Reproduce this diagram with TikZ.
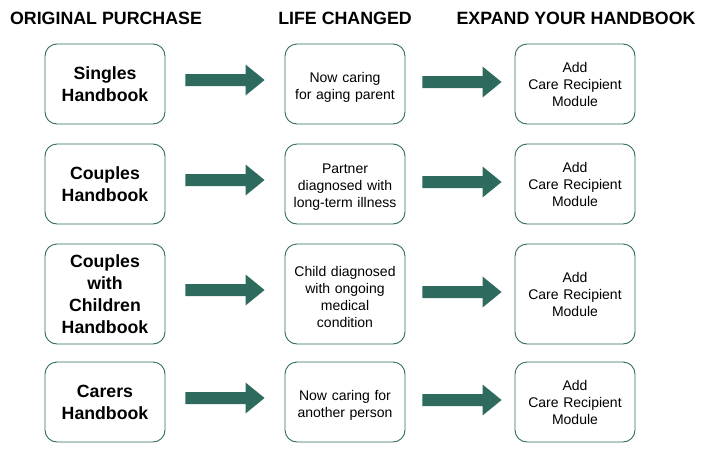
\documentclass[tikz,border=0pt]{standalone}
\usepackage{fontspec}
\setmainfont{Liberation Sans}
\usetikzlibrary{calc}
\definecolor{dgreen}{HTML}{2E6B5E}
\tikzset{
  boxbase/.style={draw=dgreen, line width=0.9pt, rounded corners=12pt, minimum width=120pt, inner sep=0pt, align=center, text width=116pt},
  firstbox/.style={boxbase, font=\fontsize{17.7}{21.8}\selectfont\bfseries},
  plainbox/.style={boxbase, font=\fontsize{14}{17}\selectfont},
  midbox/.style={plainbox, execute at begin node={\rule{0pt}{16pt}}},
  header/.style={font=\fontsize{17.8}{20}\selectfont\bfseries, inner sep=0pt},
  blockarrow/.style={fill=dgreen, to path={ let \p1=(\tikztostart), \p2=(\tikztotarget) in
     (\x1,\y1+6pt) -- (\x2-19pt,\y1+6pt) -- (\x2-19pt,\y1+15.5pt) -- (\x2,\y1) -- (\x2-19pt,\y1-15.5pt) -- (\x2-19pt,\y1-6pt) -- (\x1,\y1-6pt) -- cycle }}
}
\begin{document}
\begin{tikzpicture}[x=1pt,y=-1pt]
\useasboundingbox (0,0) rectangle (709,450);
\node[header] (h1) at (106,18) {ORIGINAL PURCHASE};
\node[header] (h2) at (345,18) {LIFE CHANGED};
\node[header] (h3) at (576,18) {EXPAND YOUR HANDBOOK};

% row 1
\node[firstbox, minimum height=80pt] (a1) at (105,84) {Singles\\Handbook};
\node[midbox, minimum height=80pt] (b1) at (345,84) {Now caring\\for aging parent};
\node[plainbox, minimum height=80pt] (c1) at (575,84) {Add\\Care Recipient\\Module};
% row 2
\node[firstbox, minimum height=80pt] (a2) at (105,184) {Couples\\Handbook};
\node[midbox, minimum height=80pt] (b2) at (345,184) {Partner\\diagnosed with\\long-term illness};
\node[plainbox, minimum height=80pt] (c2) at (575,184) {Add\\Care Recipient\\Module};
% row 3
\node[firstbox, minimum height=100pt] (a3) at (105,294) {Couples\\with\\Children\\Handbook};
\node[midbox, minimum height=100pt] (b3) at (345,294) {Child diagnosed\\with ongoing\\medical\\condition};
\node[plainbox, minimum height=100pt] (c3) at (575,294) {Add\\Care Recipient\\Module};
% row 4
\node[firstbox, minimum height=80pt] (a4) at (105,402) {Carers\\Handbook};
\node[midbox, minimum height=80pt] (b4) at (345,402) {Now caring for\\another person};
\node[plainbox, minimum height=80pt] (c4) at (575,402) {Add\\Care Recipient\\Module};

\foreach \r in {1,2,3,4}{
  \path[blockarrow] ([shift={(20,-4)}]a\r.east) to ([shift={(-20,-4)}]b\r.west);
  \path[blockarrow] ([shift={(17,-2)}]b\r.east) to ([shift={(-13,-2)}]c\r.west);
}
\end{tikzpicture}
\end{document}
